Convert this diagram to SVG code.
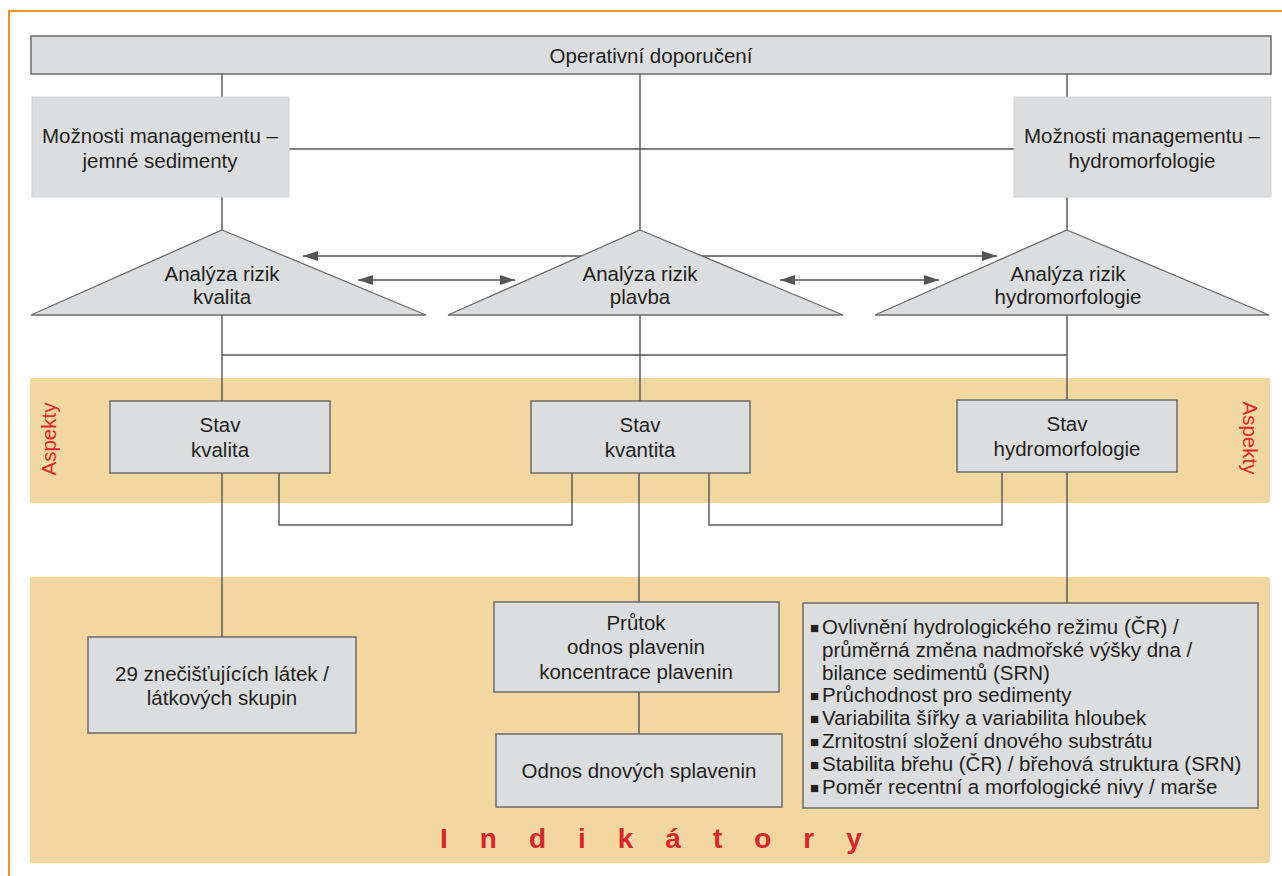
<svg xmlns="http://www.w3.org/2000/svg" width="1282" height="876" viewBox="0 0 1282 876">
<style>
text{font-family:"Liberation Sans",Arial,sans-serif;font-size:20.5px;fill:#231f20}
.c{text-anchor:middle}
.b{font-size:15px}
.box{fill:#dcdddf;stroke:#6b6b6b;stroke-width:1.5}
.mbox{fill:#dcdddf;stroke:#cfcfd1;stroke-width:1}
.tri{fill:#dcdddf;stroke:#6b6b6b;stroke-width:1.3}
.band{fill:#f2d8a0}
.ln{fill:none;stroke:#555;stroke-width:1.4}
.arr{fill:none;stroke:#555;stroke-width:1.4;marker-start:url(#ah);marker-end:url(#ah)}
.asp{fill:#e0282e;text-anchor:middle}
.ind{fill:#d9262a;font-weight:bold;font-size:28px;letter-spacing:32px}
</style>
<defs>
<marker id="ah" viewBox="0 0 15 10" refX="15" refY="5" markerWidth="15" markerHeight="10" markerUnits="userSpaceOnUse" orient="auto-start-reverse">
<path d="M0,0 L15,5 L0,10 Z" fill="#555"/>
</marker>
</defs>
<rect width="1282" height="876" fill="#fff"/>
<rect x="9" y="11" width="1300" height="900" fill="none" stroke="#f0932b" stroke-width="2"/>
<g id="bands">
<rect class="band" x="30" y="378" width="1240" height="125"/>
<rect class="band" x="30" y="577" width="1240" height="286"/>
</g>
<g id="connectors">
<line class="ln" x1="222" y1="74" x2="222" y2="97"/>
<line class="ln" x1="1067" y1="74" x2="1067" y2="97"/>
<line class="ln" x1="640" y1="74" x2="640" y2="230"/>
<line class="ln" x1="289" y1="149" x2="1014" y2="149"/>
<line class="ln" x1="222" y1="197" x2="222" y2="230"/>
<line class="ln" x1="1067" y1="197" x2="1067" y2="230"/>
<line class="arr" x1="303" y1="256" x2="997" y2="256"/>
<line class="arr" x1="358" y1="280" x2="515" y2="280"/>
<line class="arr" x1="780" y1="280" x2="939" y2="280"/>
<line class="ln" x1="222" y1="315" x2="222" y2="401"/>
<line class="ln" x1="640" y1="315" x2="640" y2="401"/>
<line class="ln" x1="1067" y1="315" x2="1067" y2="400"/>
<line class="ln" x1="222" y1="355" x2="1067" y2="355"/>
<polyline class="ln" points="279,473 279,525 572,525 572,473"/>
<polyline class="ln" points="709,473 709,525 1002,525 1002,472"/>
<line class="ln" x1="222" y1="473" x2="222" y2="637"/>
<line class="ln" x1="639" y1="473" x2="639" y2="602"/>
<line class="ln" x1="1067" y1="472" x2="1067" y2="603"/>
<line class="ln" x1="639" y1="692" x2="639" y2="734"/>
</g>
<g id="operativni">
<rect class="box" x="31" y="36" width="1240" height="38"/>
<text class="c" x="651" y="63">Operativní doporučení</text>
</g>
<g id="mgmt-sed">
<rect class="mbox" x="32" y="97" width="257" height="100"/>
<text class="c" x="160" y="143">Možnosti managementu –</text>
<text class="c" x="160" y="168">jemné sedimenty</text>
</g>
<g id="mgmt-hydro">
<rect class="mbox" x="1014" y="97" width="257" height="100"/>
<text class="c" x="1142" y="143">Možnosti managementu –</text>
<text class="c" x="1142" y="168">hydromorfologie</text>
</g>
<g id="riz-kvalita">
<polygon class="tri" points="222,230 426,315 31,315"/>
<text class="c" x="222" y="281">Analýza rizik</text>
<text class="c" x="222" y="304">kvalita</text>
</g>
<g id="riz-plavba">
<polygon class="tri" points="640,230 843,315 448,315"/>
<text class="c" x="640" y="281">Analýza rizik</text>
<text class="c" x="640" y="304">plavba</text>
</g>
<g id="riz-hydro">
<polygon class="tri" points="1067,230 1269,315 875,315"/>
<text class="c" x="1068" y="281">Analýza rizik</text>
<text class="c" x="1068" y="304">hydromorfologie</text>
</g>
<g id="aspekty-labels">
<text class="asp" transform="translate(56,439) rotate(-90)">Aspekty</text>
<text class="asp" transform="translate(1243,438) rotate(90)">Aspekty</text>
</g>
<g id="stav-kvalita">
<rect class="box" x="110" y="401" width="220" height="72"/>
<text class="c" x="220" y="432">Stav</text>
<text class="c" x="220" y="457">kvalita</text>
</g>
<g id="stav-kvantita">
<rect class="box" x="531" y="401" width="219" height="72"/>
<text class="c" x="640" y="432">Stav</text>
<text class="c" x="640" y="457">kvantita</text>
</g>
<g id="stav-hydro">
<rect class="box" x="957" y="400" width="220" height="72"/>
<text class="c" x="1067" y="431">Stav</text>
<text class="c" x="1067" y="456">hydromorfologie</text>
</g>
<g id="latky">
<rect class="box" x="88" y="637" width="268" height="96"/>
<text class="c" x="222" y="681">29 znečišťujících látek /</text>
<text class="c" x="222" y="705">látkových skupin</text>
</g>
<g id="prutok">
<rect class="box" x="494" y="602" width="285" height="90"/>
<text class="c" x="636" y="630">Průtok</text>
<text class="c" x="636" y="654">odnos plavenin</text>
<text class="c" x="636" y="679">koncentrace plavenin</text>
</g>
<g id="dnove">
<rect class="box" x="496" y="734" width="286" height="73"/>
<text class="c" x="639" y="778">Odnos dnových splavenin</text>
</g>
<g id="hydro-ind">
<rect class="box" x="803" y="603" width="455" height="205"/>
<text x="810" y="633"><tspan class="b">■</tspan><tspan x="822" y="634">Ovlivnění hydrologického režimu (ČR) /</tspan></text>
<text x="822" y="657">průměrná změna nadmořské výšky dna /</text>
<text x="822" y="680">bilance sedimentů (SRN)</text>
<text x="810" y="701"><tspan class="b">■</tspan><tspan x="822" y="702">Průchodnost pro sedimenty</tspan></text>
<text x="810" y="724"><tspan class="b">■</tspan><tspan x="822" y="725">Variabilita šířky a variabilita hloubek</tspan></text>
<text x="810" y="747"><tspan class="b">■</tspan><tspan x="822" y="748">Zrnitostní složení dnového substrátu</tspan></text>
<text x="810" y="770"><tspan class="b">■</tspan><tspan x="822" y="771">Stabilita břehu (ČR) / břehová struktura (SRN)</tspan></text>
<text x="810" y="793"><tspan class="b">■</tspan><tspan x="822" y="794">Poměr recentní a morfologické nivy / marše</tspan></text>
</g>
<g id="indikatory-label">
<text class="ind" x="440" y="848">Indikátory</text>
</g>
</svg>
